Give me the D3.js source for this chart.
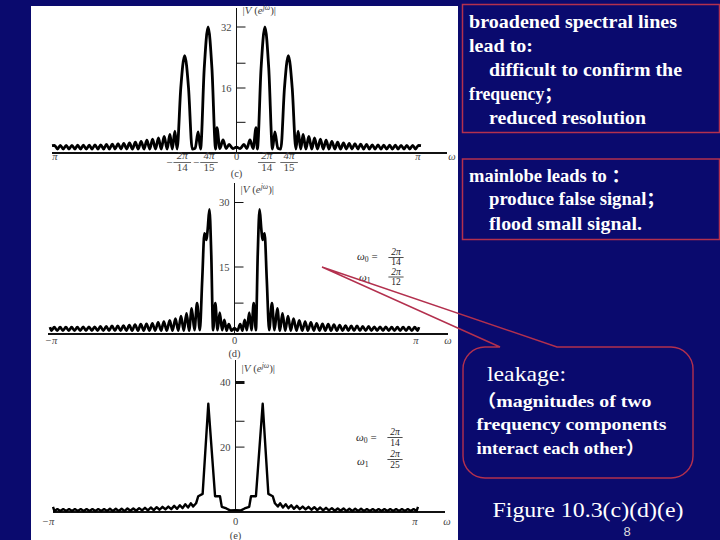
<!DOCTYPE html>
<html><head><meta charset="utf-8">
<script src="https://cdn.jsdelivr.net/npm/d3@7"></script>
<style>html,body{margin:0;padding:0;background:#0a0a6e;}svg{display:block;}</style>
</head><body>
<svg id="chart" width="720" height="540"></svg>
<script>
// ---------- DATA (positive-frequency half, ω/π and |V|; spectra are symmetric) ----------
const cOmega = [0,0.02,0.04,0.056,0.073,0.09,0.106,0.113,0.133,0.154,0.175,0.195,0.208,0.224,0.24,0.26,0.281,0.302,0.322,0.334,0.348,
  0.361,0.376,0.392,0.408,0.423,0.439,0.455,0.47,0.486,0.501,0.517,0.533,0.548,0.564,0.58,0.595,0.611,0.626,0.642,0.658,
  0.673,0.689,0.705,0.72,0.736,0.751,0.767,0.783,0.798,0.814,0.83,0.845,0.861,0.876,0.892,0.908,0.923,0.939,0.955,0.97,0.986,1.0];
const cMag = [0.5,0.1,1.2,0.1,2.4,0.1,5.6,0,21,32,21,0,4.5,0.2,0,16,24.5,16,0,4.7,0,
  3.8,0,3.3,0,2.9,0,2.6,0,2.3,0,2.0,0,1.8,0,1.6,0,1.5,0,1.4,0,
  1.3,0,1.2,0,1.1,0,1.05,0,1.0,0,1.0,0,1.0,0,0.95,0,0.95,0,0.95,0,0.95,0.9];

const dOmega = [0,0.016,0.031,0.043,0.055,0.067,0.08,0.092,0.104,0.116,0.126,0.136,0.145,0.152,0.163,0.175,0.188,
  0.203,0.217,0.232,0.246,0.26,0.275,0.29,0.305,0.32,0.336,0.351,0.367,0.383,0.398,0.414,0.43,0.445,0.461,0.477,0.492,
  0.508,0.523,0.539,0.555,0.57,0.586,0.602,0.617,0.633,0.648,0.664,0.68,0.695,0.711,0.727,0.742,0.758,0.773,0.789,0.805,
  0.82,0.836,0.852,0.867,0.883,0.898,0.914,0.93,0.945,0.961,0.977,0.992,1.0];
const dMag = [0.8,0.2,1.7,0.2,2.7,0.3,4.4,0.3,6.6,0.3,18,28.4,24,21.3,22.8,12,0.3,
  6.6,0.3,5.4,0.2,4.2,0.2,3.6,0.2,3.0,0.2,2.6,0.2,2.3,0.2,2.1,0.2,1.9,0.2,1.8,0.2,
  1.7,0.2,1.6,0.2,1.5,0.2,1.4,0.2,1.3,0.2,1.3,0.2,1.2,0.2,1.2,0.2,1.1,0.2,1.1,0.2,
  1.1,0.2,1.0,0.2,1.0,0.2,1.0,0.2,1.0,0.2,1.0,0.2,1.0];

const eOmega = [0,0.03,0.05,0.075,0.085,0.112,0.149,0.18,0.204,0.216,0.232,0.245,0.26,0.275,0.29,0.305,0.32,0.336,0.352,0.368,
  0.384,0.4,0.416,0.432,0.448,0.464,0.48,0.496,0.512,0.528,0.544,0.56,0.576,0.592,0.608,0.624,0.64,0.656,0.672,0.688,
  0.704,0.72,0.736,0.752,0.768,0.784,0.8,0.816,0.832,0.848,0.864,0.88,0.896,0.912,0.928,0.944,0.96,0.976,0.992,1.0];
const eMag = [0.5,0.4,1.0,1.5,4.8,4.8,33.4,5.5,4.8,2.6,1.6,2.6,1.3,2.3,1.1,2.0,0.9,1.8,0.8,1.6,
  0.7,1.5,0.6,1.4,0.5,1.3,0.4,1.2,0.4,1.1,0.3,1.0,0.3,1.0,0.2,0.9,0.2,0.9,0.2,0.9,
  0.2,0.8,0.2,0.8,0.2,0.8,0.2,0.8,0.2,0.8,0.2,0.8,0.2,0.8,0.2,0.8,0.2,0.8,0.2,1.5];

const cYLabels = [32, 16], cYMinor = [22.5, 7];
const dYLabels = [30, 15], dYMinor = [6.6];
const eYLabels = [40, 20], eYMinor = [28];

const cFracPos = [-0.294, -0.149, 0.164, 0.285];
const cFracNum = ["2π", "4π", "2π", "4π"];
const cFracDen = ["14", "15", "14", "15"];
const cFracNeg = [true, true, false, false];

const box1Lines = ["broadened spectral lines", "lead to:", "difficult to confirm the", "frequency；", "reduced resolution"];
const box2Lines = ["mainlobe leads to ：", "produce false signal；", "flood small signal."];
const bubbleLines = ["（magnitudes of two", "frequency components", "interact each other）"];

// ---------- DRAW ----------
const svg = d3.select("#chart");
const NAVY = "#0a0a6e", RED = "#b3304e", GRAY = "#444";
svg.append("rect").attr("width", 720).attr("height", 540).attr("fill", NAVY);
svg.append("rect").attr("x", 31).attr("y", 6).attr("width", 427).attr("height", 534).attr("fill", "#fff");

function zipMirror(om, mag) {
  const n = Math.min(om.length, mag.length);
  const pos = [];
  for (let i = 0; i < n; i++) pos.push([om[i], mag[i]]);
  const neg = pos.filter(d => d[0] > 0).map(d => [-d[0], d[1]]).reverse();
  return neg.concat(pos);
}

function vLabel(g, x, y) {
  const t = g.append("text").attr("x", x).attr("y", y)
    .attr("font-family", "Liberation Serif").attr("font-size", 11).attr("fill", GRAY);
  t.append("tspan").text("|");
  t.append("tspan").attr("font-style", "italic").text("V");
  t.append("tspan").text(" (");
  t.append("tspan").attr("font-style", "italic").text("e");
  t.append("tspan").attr("font-style", "italic").attr("font-size", 7.5).attr("dy", -4).text("jω");
  t.append("tspan").attr("dy", 4).text(")|");
}

function frac(g, x, yNum, yBar, yDen, num, den, size, color) {
  g.append("text").attr("x", x).attr("y", yNum).attr("text-anchor", "middle")
    .attr("font-family", "Liberation Serif").attr("font-style", "italic").attr("font-size", size).attr("fill", color).text(num);
  g.append("line").attr("x1", x - size * 0.8).attr("x2", x + size * 0.8).attr("y1", yBar).attr("y2", yBar)
    .attr("stroke", color).attr("stroke-width", 0.8);
  g.append("text").attr("x", x).attr("y", yDen).attr("text-anchor", "middle")
    .attr("font-family", "Liberation Serif").attr("font-size", size).attr("fill", color).text(den);
}

function omegaSub(g, x, y, sub, eq, size) {
  const t = g.append("text").attr("x", x).attr("y", y).attr("font-family", "Liberation Serif")
    .attr("font-size", size).attr("fill", "#222");
  t.append("tspan").attr("font-style", "italic").text("ω");
  t.append("tspan").attr("font-size", size * 0.7).attr("dy", 2).text(sub);
  t.append("tspan").attr("dy", -2).text(eq);
}

function drawPlot(p) {
  const g = svg.append("g");
  const x = d3.scaleLinear().domain([-1, 1]).range(p.xr);
  const y = d3.scaleLinear().domain(p.yd).range(p.yr);
  const data = zipMirror(p.om, p.mag);
  g.append("line").attr("x1", p.xAxisStart).attr("x2", p.xAxisEnd).attr("y1", p.axisY).attr("y2", p.axisY)
    .attr("stroke", "#111").attr("stroke-width", 1.8);
  g.append("line").attr("x1", x(0)).attr("x2", x(0)).attr("y1", p.yTop).attr("y2", p.axisY)
    .attr("stroke", "#111").attr("stroke-width", 1);
  g.selectAll(".tk").data(p.yLabels.concat(p.yMinor)).join("line")
    .attr("x1", x(0)).attr("x2", x(0) + 9).attr("y1", d => y(d)).attr("y2", d => y(d))
    .attr("stroke", "#111").attr("stroke-width", (d, i) => (p.thickFirst && i === 0) ? 3 : 1);
  g.selectAll(".tl").data(p.yLabels).join("text")
    .attr("x", x(0) - 5).attr("y", d => y(d) + 3.5).attr("text-anchor", "end")
    .attr("font-family", "Liberation Serif").attr("font-size", 10.5).attr("fill", GRAY).text(d => d);
  vLabel(g, x(0) + 6, p.vLabelY);
  const line = d3.line().x(d => x(d[0])).y(d => y(d[1])).curve(p.curve);
  g.append("path").datum(data).attr("d", line).attr("fill", "none")
    .attr("stroke", "#000").attr("stroke-width", p.sw).attr("stroke-linejoin", "round");
  const addT = (tx, ty, s, it) => {
    const t = g.append("text").attr("x", tx).attr("y", ty).attr("text-anchor", "middle")
      .attr("font-family", "Liberation Serif").attr("font-size", 10.5).attr("fill", GRAY).text(s);
    if (it) t.attr("font-style", "italic");
    return t;
  };
  addT(x(-1) + p.piOff, p.labY, p.leftPi, true);
  addT(x(0), p.labY, "0", false);
  addT(x(1) - 3, p.labY, "π", true);
  addT(p.omegaX, p.labY, "ω", true);
  addT(x(0), p.capY, p.cap, false);
  return { g, x, y };
}

// (c)
const pc = drawPlot({ om: cOmega, mag: cMag, xr: [52, 421], yd: [0, 32], yr: [149, 27], axisY: 153, xAxisStart: 52, xAxisEnd: 447,
  yTop: 8, yLabels: cYLabels, yMinor: cYMinor, vLabelY: 14, curve: d3.curveMonotoneX, sw: 2.8,
  labY: 160, leftPi: "π", piOff: 3, omegaX: 452, capY: 177, cap: "(c)" });
cFracPos.forEach((w, i) => {
  const cx = pc.x(w);
  frac(pc.g, cx, 159, 162.5, 170.5, cFracNum[i], cFracDen[i], 11, GRAY);
  if (cFracNeg[i]) pc.g.append("text").attr("x", cx - 13).attr("y", 166).attr("text-anchor", "middle")
    .attr("font-family", "Liberation Serif").attr("font-size", 11).attr("fill", GRAY).text("−");
});

// (d)
const pd = drawPlot({ om: dOmega, mag: dMag, xr: [50, 419], yd: [0, 30], yr: [331.5, 202.5], axisY: 334, xAxisStart: 48, xAxisEnd: 448,
  yTop: 183, yLabels: dYLabels, yMinor: dYMinor, vLabelY: 193, curve: d3.curveMonotoneX, sw: 2.7,
  labY: 344, leftPi: "−π", piOff: 1, omegaX: 448, capY: 357, cap: "(d)" });
omegaSub(pd.g, 357, 260, "0", " =", 11);
frac(pd.g, 396, 255, 257.5, 265, "2π", "14", 9.5, "#222");
omegaSub(pd.g, 359, 281, "1", "", 11);
frac(pd.g, 396, 274.5, 277, 285, "2π", "12", 9.5, "#222");

// (e)
const pe = drawPlot({ om: eOmega, mag: eMag, xr: [53, 418], yd: [0, 40], yr: [511.7, 382.5], axisY: 512, xAxisStart: 53, xAxisEnd: 445,
  yTop: 360, yLabels: eYLabels, yMinor: eYMinor, vLabelY: 372, curve: d3.curveLinear, sw: 2.4, thickFirst: true,
  labY: 525, leftPi: "−π", piOff: -5, omegaX: 447, capY: 539, cap: "(e)" });
omegaSub(pe.g, 356, 441, "0", " =", 11);
frac(pe.g, 395, 435, 437.5, 445.5, "2π", "14", 9.5, "#222");
omegaSub(pe.g, 357, 465, "1", "", 11);
frac(pe.g, 395, 457, 459.5, 468, "2π", "25", 9.5, "#222");

// ---------- right side text ----------
svg.append("rect").attr("x", 462.5).attr("y", 4.5).attr("width", 257).attr("height", 128)
  .attr("fill", "none").attr("stroke", RED).attr("stroke-width", 1.5);
svg.append("rect").attr("x", 462.5).attr("y", 159).attr("width", 257).attr("height", 80.5)
  .attr("fill", "none").attr("stroke", RED).attr("stroke-width", 1.5);

const b1x = [469, 469, 489, 469, 489], b1y = [28, 52, 75.5, 99.5, 123.5], b1w = [208, 64, 193, 93, 157];
box1Lines.forEach((s, i) => svg.append("text").attr("x", b1x[i]).attr("y", b1y[i])
  .attr("font-family", "Liberation Serif, Noto Sans CJK SC").attr("font-weight", "bold").attr("font-size", 18.5)
  .attr("fill", "#fff").attr("textLength", b1w[i]).attr("lengthAdjust", "spacingAndGlyphs").text(s));
const b2x = [469, 489, 489], b2y = [181.5, 205, 229.5], b2w = [161, 176, 153];
box2Lines.forEach((s, i) => svg.append("text").attr("x", b2x[i]).attr("y", b2y[i])
  .attr("font-family", "Liberation Serif, Noto Sans CJK SC").attr("font-weight", "bold").attr("font-size", 18.5)
  .attr("fill", "#fff").attr("textLength", b2w[i]).attr("lengthAdjust", "spacingAndGlyphs").text(s));

const bp = d3.path();
const L = 463, R = 693, T = 347, B = 478, r = 22;
bp.moveTo(500, T); bp.lineTo(322, 267); bp.lineTo(557, T);
bp.lineTo(R - r, T); bp.arcTo(R, T, R, T + r, r);
bp.lineTo(R, B - r); bp.arcTo(R, B, R - r, B, r);
bp.lineTo(L + r, B); bp.arcTo(L, B, L, B - r, r);
bp.lineTo(L, T + r); bp.arcTo(L, T, L + r, T, r);
bp.closePath();
svg.append("path").attr("d", bp.toString()).attr("fill", "none").attr("stroke", RED).attr("stroke-width", 1.4);

svg.append("text").attr("x", 487).attr("y", 381).attr("font-family", "Liberation Serif").attr("font-size", 22)
  .attr("fill", "#fff").attr("textLength", 79).attr("lengthAdjust", "spacingAndGlyphs").text("leakage:");
const bby = [406.5, 430, 453.5], bbw = [175, 190, 168];
bubbleLines.forEach((s, i) => svg.append("text").attr("x", 476.5).attr("y", bby[i])
  .attr("font-family", "Liberation Serif, Noto Sans CJK SC").attr("font-weight", "bold").attr("font-size", 17.5)
  .attr("fill", "#fff").attr("textLength", bbw[i]).attr("lengthAdjust", "spacingAndGlyphs").text(s));

svg.append("text").attr("x", 492.5).attr("y", 517).attr("font-family", "Liberation Serif").attr("font-size", 22)
  .attr("fill", "#fff").attr("textLength", 191).attr("lengthAdjust", "spacingAndGlyphs").text("Figure 10.3(c)(d)(e)");
svg.append("text").attr("x", 627).attr("y", 536).attr("text-anchor", "middle")
  .attr("font-family", "Liberation Sans Narrow, Liberation Sans").attr("font-size", 13).attr("fill", "#ddd").text("8");
</script>
</body></html>
